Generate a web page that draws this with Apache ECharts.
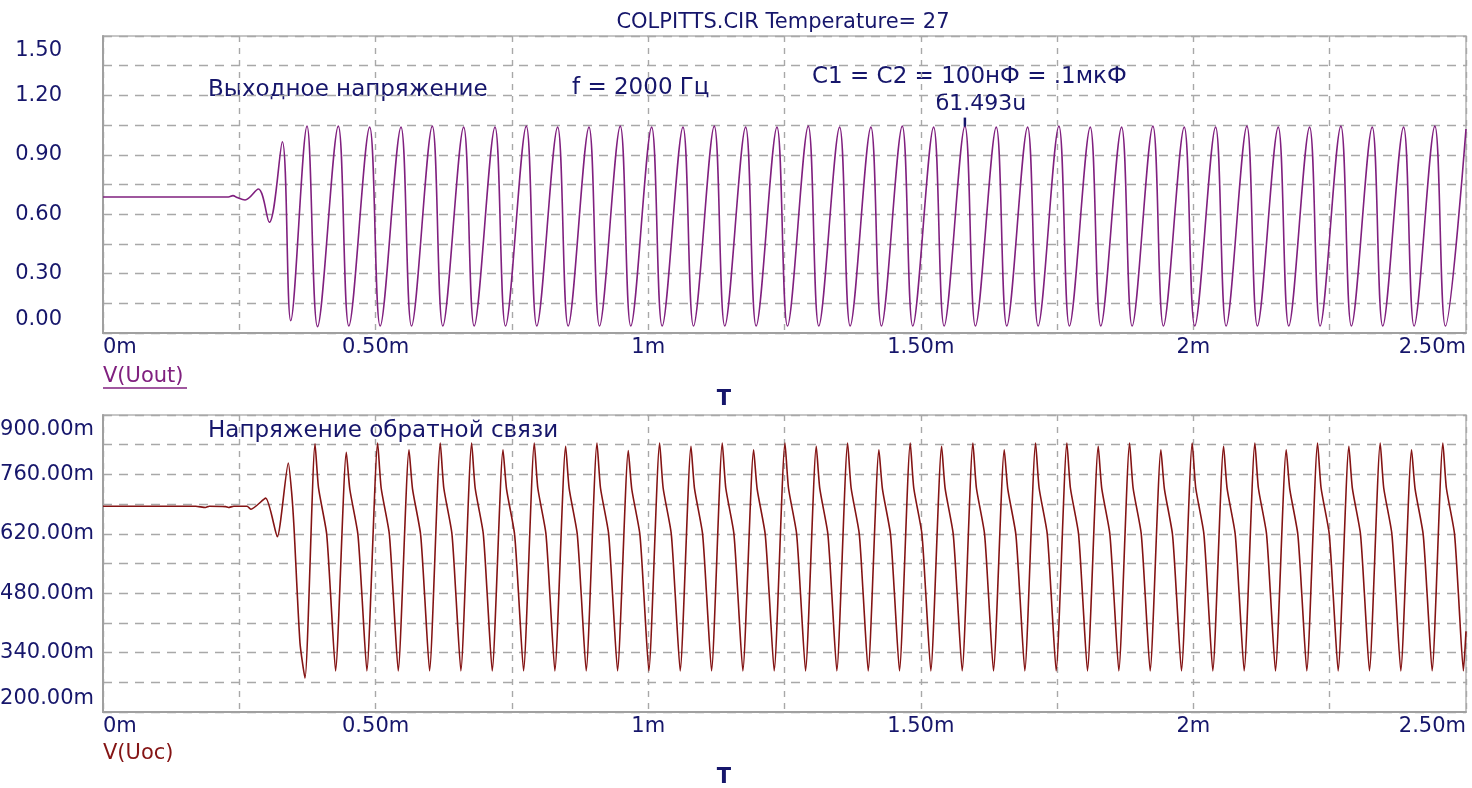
<!DOCTYPE html>
<html><head><meta charset="utf-8">
<script src="https://cdn.jsdelivr.net/npm/echarts@6/dist/echarts.min.js"></script>
<style>html,body{margin:0;padding:0;background:#fff}#c{width:1472px;height:788px}</style>
</head><body><div id="c"></div>
<script>
// ---------- data (time in ms) ----------
const chartTitle = 'COLPITTS.CIR Temperature= 27';
const topNote1 = 'Выходное напряжение';
const topNote2 = 'f = 2000 Гц';
const topNote3 = 'C1 = C2 = 100нФ = .1мкФ';
const bottomNote = 'Напряжение обратной связи';
const topSeriesName = 'V(Uout)';
const bottomSeriesName = 'V(Uoc)';
const xAxisName = 'T';
const markerText = 'б1.493u';
const markerT = 1.5809;
const markerV = 1.04;

const timeRange = [0, 2.5];
const timeStep = 0.25;
const topRange = [0, 1.5];
const topStep = 0.15;
const bottomRange = [200, 900];
const bottomStep = 70;

// V(Uout), volts
const uoutT = [0, 0.2300, 0.2384, 0.2460, 0.2605, 0.2849, 0.3050, 0.3289, 0.3443,
  0.3742,0.3935, 0.4316,0.4509, 0.4891,0.5084, 0.5466,0.5659, 0.6040,0.6233, 0.6615,0.6808,
  0.7190,0.7383, 0.7764,0.7957, 0.8339,0.8532, 0.8914,0.9107, 0.9488,0.9681, 1.0063,1.0256,
  1.0638,1.0831, 1.1212,1.1405, 1.1787,1.1980, 1.2362,1.2555, 1.2936,1.3129, 1.3511,1.3704,
  1.4085,1.4278, 1.4660,1.4853, 1.5235,1.5428, 1.5809,1.6002, 1.6384,1.6577, 1.6959,1.7152,
  1.7533,1.7726, 1.8108,1.8301, 1.8683,1.8876, 1.9257,1.9450, 1.9832,2.0025, 2.0407,2.0600,
  2.0981,2.1174, 2.1556,2.1749, 2.2131,2.2324, 2.2705,2.2898, 2.3280,2.3473, 2.3855,2.4048,
  2.4429,2.4622, 2.5000];
const uoutV = [0.687, 0.687, 0.694, 0.684, 0.672, 0.727, 0.559, 0.966, 0.062,
  1.045,0.032, 1.045,0.035, 1.040,0.035, 1.040,0.035, 1.045,0.035, 1.040,0.035,
  1.040,0.035, 1.045,0.035, 1.040,0.035, 1.040,0.035, 1.045,0.035, 1.040,0.035,
  1.040,0.035, 1.045,0.035, 1.040,0.035, 1.040,0.035, 1.045,0.035, 1.040,0.035,
  1.040,0.035, 1.045,0.035, 1.040,0.035, 1.045,0.035, 1.040,0.035, 1.040,0.035,
  1.045,0.035, 1.040,0.035, 1.040,0.035, 1.045,0.035, 1.040,0.035, 1.040,0.035,
  1.045,0.035, 1.040,0.035, 1.040,0.035, 1.045,0.035, 1.040,0.035, 1.040,0.035,
  1.045,0.035, 1.030];

// V(Uoc), millivolts
const uocT = [0, 0.1700, 0.1880, 0.1950, 0.2250, 0.2300, 0.2400, 0.2641, 0.2715, 0.2984, 0.3197, 0.3399, 0.3461, 0.3503, 0.3613, 0.3705,
  0.3889,0.3953,0.4100,0.4173,0.4265,
  0.4463,0.4527,0.4674,0.4747,0.4839,
  0.5038,0.5102,0.5249,0.5322,0.5414,
  0.5613,0.5677,0.5824,0.5897,0.5989,
  0.6187,0.6251,0.6398,0.6471,0.6563,
  0.6762,0.6826,0.6973,0.7046,0.7138,
  0.7337,0.7401,0.7548,0.7621,0.7713,
  0.7911,0.7975,0.8122,0.8195,0.8287,
  0.8486,0.8550,0.8697,0.8770,0.8862,
  0.9061,0.9125,0.9272,0.9345,0.9437,
  0.9635,0.9699,0.9846,0.9919,1.0011,
  1.0210,1.0274,1.0421,1.0494,1.0586,
  1.0785,1.0849,1.0996,1.1069,1.1161,
  1.1359,1.1423,1.1570,1.1643,1.1735,
  1.1934,1.1998,1.2145,1.2218,1.2310,
  1.2509,1.2573,1.2720,1.2793,1.2885,
  1.3083,1.3147,1.3294,1.3367,1.3459,
  1.3658,1.3722,1.3869,1.3942,1.4034,
  1.4232,1.4296,1.4443,1.4516,1.4608,
  1.4807,1.4871,1.5018,1.5091,1.5183,
  1.5382,1.5446,1.5593,1.5666,1.5758,
  1.5956,1.6020,1.6167,1.6240,1.6332,
  1.6531,1.6595,1.6742,1.6815,1.6907,
  1.7106,1.7170,1.7317,1.7390,1.7482,
  1.7680,1.7744,1.7891,1.7964,1.8056,
  1.8255,1.8319,1.8466,1.8539,1.8631,
  1.8830,1.8894,1.9041,1.9114,1.9206,
  1.9404,1.9468,1.9615,1.9688,1.9780,
  1.9979,2.0043,2.0190,2.0263,2.0355,
  2.0554,2.0618,2.0765,2.0838,2.0930,
  2.1128,2.1192,2.1339,2.1412,2.1504,
  2.1703,2.1767,2.1914,2.1987,2.2079,
  2.2278,2.2342,2.2489,2.2562,2.2654,
  2.2852,2.2916,2.3063,2.3136,2.3228,
  2.3427,2.3491,2.3638,2.3711,2.3803,
  2.4002,2.4066,2.4213,2.4286,2.4378,
  2.4576,2.4640,2.4787,2.4860,2.4952,
  2.5000];
const uocV = [685, 685, 682, 685, 684, 682, 685, 685, 678, 704, 613, 787, 716, 636, 363, 280,
  832,728,622,480,297,
  812,725,620,480,297,
  834,728,622,480,297,
  818,726,620,480,297,
  834,728,622,480,297,
  834,728,622,480,297,
  818,726,620,480,297,
  834,728,622,480,297,
  826,727,621,480,297,
  834,728,622,480,297,
  816,725,620,480,297,
  834,728,622,480,297,
  826,727,621,480,297,
  834,728,622,480,297,
  818,726,620,480,297,
  834,728,622,480,297,
  826,727,621,480,297,
  834,728,622,480,297,
  818,726,620,480,297,
  834,728,622,480,297,
  826,727,621,480,297,
  834,728,622,480,297,
  818,726,620,480,297,
  834,728,622,480,297,
  834,728,622,480,297,
  826,727,621,480,297,
  834,728,622,480,297,
  818,726,620,480,297,
  834,728,622,480,297,
  826,727,621,480,297,
  834,728,622,480,297,
  818,726,620,480,297,
  834,728,622,480,297,
  826,727,621,480,297,
  834,728,622,480,297,
  818,726,620,480,297,
  834,728,622,480,297,
  390];

// ---------- styling ----------
const FONT = 'DejaVu Sans';
const NAVY = '#16166b';
const GRIDC = '#a8a8a8';
const AXISC = '#a0a0a0';
const PURPLE = '#80207f';
const DRED = '#841414';

function near(a, b) { return Math.abs(a - b) < 1e-6; }
function xFmt(v) {
  const r = Math.round(v * 100) / 100;
  if (!near(r / 0.5, Math.round(r / 0.5))) return '';
  return Number.isInteger(r) ? r + 'm' : r.toFixed(2) + 'm';
}
function topFmt(v) {
  const r = Math.round(v * 100) / 100;
  if (!near(r / 0.3, Math.round(r / 0.3))) return '';
  const s = r.toFixed(2);
  if (near(r, topRange[0])) return '{lo|' + s + '}';
  if (near(r, topRange[1])) return '{hi|' + s + '}';
  return s;
}
function botFmt(v) {
  const r = Math.round(v);
  if ((r - bottomRange[0]) % (2 * bottomStep) !== 0) return '';
  const s = r.toFixed(2) + 'm';
  if (r === bottomRange[0]) return '{lo|' + s + '}';
  if (r === bottomRange[1]) return '{hi|' + s + '}';
  return s;
}
const labelBase = { fontFamily: FONT, fontSize: 21, color: NAVY };
function richFor() {
  return {
    lo: Object.assign({ padding: [0, 0, 27, 0] }, labelBase),
    hi: Object.assign({ padding: [29, 0, 0, 0] }, labelBase)
  };
}
function xAxisDef(gi) {
  return {
    type: 'value', gridIndex: gi, min: timeRange[0], max: timeRange[1], interval: timeStep,
    axisLine: { show: true, onZero: false, lineStyle: { color: AXISC, width: 2 } },
    axisTick: { show: false },
    axisLabel: Object.assign({ formatter: xFmt, margin: 4, alignMinLabel: 'left', alignMaxLabel: 'right', showMinLabel: true, showMaxLabel: true }, labelBase),
    splitLine: { show: true, lineStyle: { type: [6, 6], color: GRIDC, width: 1.4 } }
  };
}
function yAxisDef(gi, range, step, fmt, margin) {
  return {
    type: 'value', gridIndex: gi, min: range[0], max: range[1], interval: step,
    axisLine: { show: true, lineStyle: { color: AXISC, width: 2 } },
    axisTick: { show: false },
    axisLabel: Object.assign({ formatter: fmt, margin: margin, rich: richFor(), showMinLabel: true, showMaxLabel: true }, labelBase),
    splitLine: { show: true, lineStyle: { type: [9, 7], color: GRIDC, width: 1.4 } }
  };
}
function txt(x, y, text, size, color, align, bold) {
  return { type: 'text', silent: true, style: { x: x, y: y, text: text, fill: color,
    font: (bold ? 'bold ' : '') + size + 'px "' + FONT + '"', textAlign: align || 'left', textVerticalAlign: 'middle' } };
}

const chart = echarts.init(document.getElementById('c'), null, { renderer: 'canvas' });
chart.setOption({
  animation: false,
  backgroundColor: '#ffffff',
  grid: [
    { left: 103, top: 36, width: 1363, height: 297, containLabel: false, outerBoundsMode: 'none', show: true, borderColor: '#b4b4b4', borderWidth: 1.5, backgroundColor: 'transparent' },
    { left: 103, top: 415, width: 1363, height: 297, containLabel: false, outerBoundsMode: 'none', show: true, borderColor: '#b4b4b4', borderWidth: 1.5, backgroundColor: 'transparent' }
  ],
  xAxis: [xAxisDef(0), xAxisDef(1)],
  yAxis: [
    yAxisDef(0, topRange, topStep, topFmt, 41),
    yAxisDef(1, bottomRange, bottomStep, botFmt, 9)
  ],
  series: [
    {
      type: 'line', name: topSeriesName, xAxisIndex: 0, yAxisIndex: 0,
      data: uoutT.map((t, i) => [t, uoutV[i]]),
      showSymbol: false, smooth: 0.35, lineStyle: { color: PURPLE, width: 1.6 },
      markPoint: {
        symbol: 'rect', symbolSize: [2.5, 9], symbolOffset: [0, -5], itemStyle: { color: NAVY },
        label: { show: true, formatter: markerText, position: 'inside', offset: [16, -18], fontFamily: FONT, fontSize: 22, color: NAVY },
        data: [{ coord: [markerT, markerV] }]
      }
    },
    {
      type: 'line', name: bottomSeriesName, xAxisIndex: 1, yAxisIndex: 1,
      data: uocT.map((t, i) => [t, uocV[i]]),
      showSymbol: false, smooth: 0.2, lineStyle: { color: DRED, width: 1.6 }
    }
  ],
  graphic: [
    txt(783, 23, chartTitle, 21, NAVY, 'center'),
    txt(208, 90, topNote1, 23, NAVY),
    txt(572, 88, topNote2, 23, NAVY),
    txt(812, 77, topNote3, 23, NAVY),
    txt(208, 431, bottomNote, 23, NAVY),
    txt(103, 377, topSeriesName, 21, PURPLE),
    { type: 'line', silent: true, shape: { x1: 103, y1: 388, x2: 187, y2: 388 }, style: { stroke: PURPLE, lineWidth: 1.5 } },
    txt(724, 400, xAxisName, 21, NAVY, 'center', true),
    txt(103, 754, bottomSeriesName, 21, DRED),
    txt(724, 778, xAxisName, 21, NAVY, 'center', true)
  ]
});
</script>
</body></html>
